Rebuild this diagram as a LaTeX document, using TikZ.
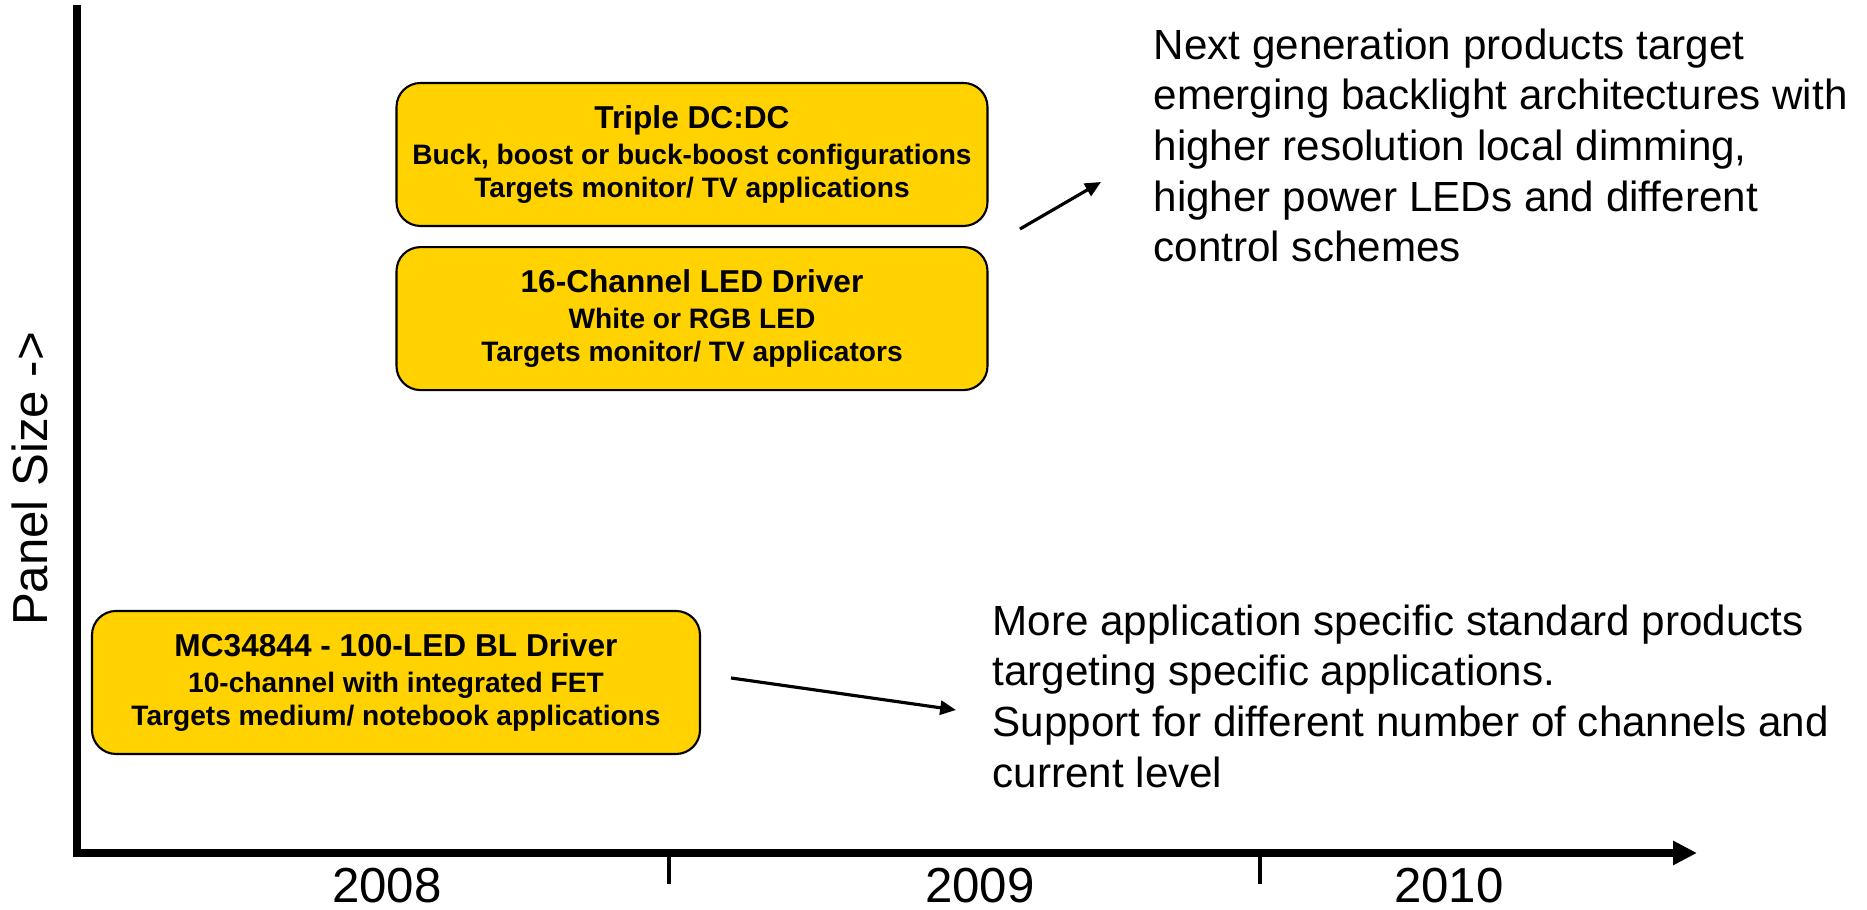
\documentclass[tikz,border=0pt]{standalone}
\usepackage{fontspec}
\setmainfont{Liberation Sans}
\usetikzlibrary{positioning,arrows.meta}
\definecolor{boxgold}{RGB}{255,210,0}
\tikzset{
  axis/.style={
    line width=2.2pt,
    line join=miter,
    -{Triangle[length=6.8pt,width=6.5pt]}
  },
  yeartick/.style={line width=1.2pt},
  year/.style={anchor=base, font=\fontsize{14}{16}\selectfont},
  prodbox/.style={
    draw=black, line width=0.6pt, fill=boxgold,
    rounded corners=0.24cm, align=center, inner sep=0pt,
    minimum width=5.91cm, minimum height=1.43cm,
    font=\bfseries\fontsize{8}{9.6}\selectfont
  },
  note/.style={align=left, inner sep=0pt, anchor=north west, font=\fontsize{12}{14.4}\selectfont},
  pointer/.style={line width=0.9pt, -{Triangle[length=4.5pt,width=4pt]}}
}
\newcommand{\boxtitle}[1]{{\fontsize{9}{10.5}\selectfont #1}}

\begin{document}
\begin{tikzpicture}
  \useasboundingbox (0,0) rectangle (18.67,9.10);

  % 1. Axes (panel size up, years along)
  \coordinate (ytop) at (0.77,9.05);
  \coordinate (xend) at (16.97,0.57);
  \draw[axis] (ytop) |- (xend);

  % year borders
  \coordinate (tick89) at (6.69,0.55);
  \coordinate (tick910) at (12.60,0.55);
  \draw[yeartick] (tick89) -- ++(0,-0.29);
  \draw[yeartick] (tick910) -- ++(0,-0.29);

  \node[year] (y2008) at (3.87,0.07) {2008};
  \node[year] (y2009) at (9.80,0.07) {2009};
  \node[year] (y2010) at (14.49,0.07) {2010};

  \node[rotate=90, font=\fontsize{14}{16}\selectfont] (panel) at (0.30,4.31) {Panel Size ->};

  % 2. Product boxes
  \node[prodbox] (triple) at (6.92,7.555)
    {\boxtitle{Triple DC:DC}\\[0.6pt]Buck, boost or buck-boost configurations\\Targets monitor/ TV applications};
  \node[prodbox, below=0.19cm of triple] (sixteen)
    {\boxtitle{16-Channel LED Driver}\\[0.6pt]White or RGB LED\\Targets monitor/ TV applicators};
  \node[prodbox, minimum width=6.08cm] (mc) at (3.96,2.275)
    {\boxtitle{MC34844 - 100-LED BL Driver}\\[0.6pt]10-channel with integrated FET\\Targets medium/ notebook applications};

  % 3. Notes on the right
  \node[note] (nextgen) at (11.53,8.82)
    {Next generation products target\\emerging backlight architectures with\\higher resolution local dimming,\\higher power LEDs and different\\control schemes};
  \node[note] (assp) at (9.92,3.06)
    {More application specific standard products\\targeting specific applications.\\Support for different number of channels and\\current level};

  % 4. Pointers
  \coordinate (upfrom) at (10.20,6.81);
  \coordinate (upto) at (11.01,7.28);
  \draw[pointer] (upfrom) -- (upto);
  \coordinate (lowfrom) at (7.31,2.32);
  \coordinate (lowto) at (9.56,2.00);
  \draw[pointer] (lowfrom) -- (lowto);

\end{tikzpicture}
\end{document}
